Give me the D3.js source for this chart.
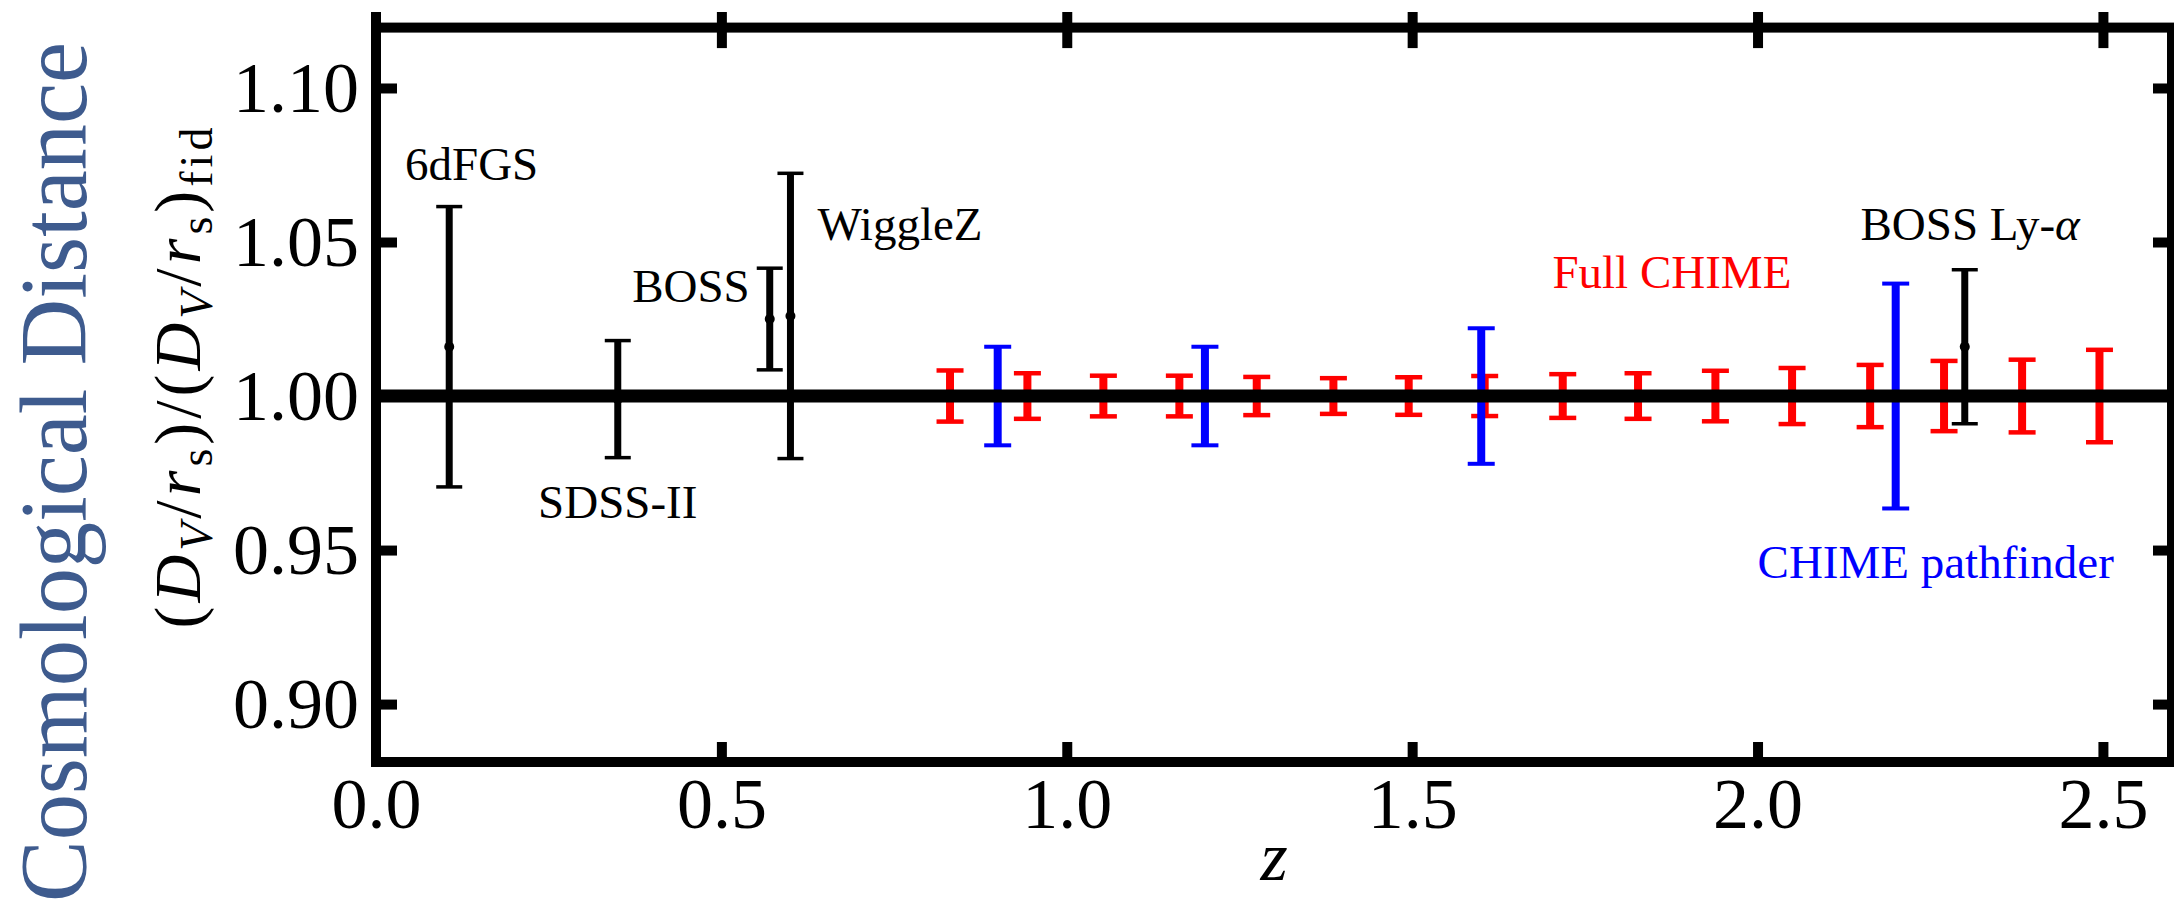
<!DOCTYPE html>
<html>
<head>
<meta charset="utf-8">
<script src="https://cdn.jsdelivr.net/npm/d3@7"></script>
<style>
  body { margin: 0; background: #fff; }
  svg text { font-family: "Liberation Serif", "DejaVu Serif", serif; }
</style>
</head>
<body>
<div id="chart"></div>
<script>
// existing BAO measurements (black)
const surveyNames = ["6dFGS", "SDSS-II", "BOSS", "WiggleZ", "BOSS Ly-α"];
const surveyZ = [0.106, 0.35, 0.57, 0.60, 2.30];
const surveyVal = [1.016, 0.999, 1.025, 1.026, 1.016];
const surveyErr = [0.0455, 0.019, 0.0165, 0.0463, 0.025];

// CHIME pathfinder forecast (blue)
const pathZ = [0.9, 1.2, 1.6, 2.2];
const pathErr = [0.016, 0.016, 0.022, 0.0365];

// full CHIME forecast (red)
const fullZ = [0.831, 0.943, 1.053, 1.163, 1.275, 1.386, 1.495, 1.605,
               1.718, 1.827, 1.939, 2.05, 2.163, 2.27, 2.383, 2.495];
const fullErr = [0.0083, 0.0074, 0.0066, 0.0066, 0.0062, 0.0058, 0.0061, 0.0065,
                 0.0071, 0.0074, 0.0082, 0.0091, 0.0101, 0.0114, 0.0118, 0.015];

const xTicks = [0.5, 1.0, 1.5, 2.0, 2.5];
const xTickLabels = [0.0, 0.5, 1.0, 1.5, 2.0, 2.5];
const yTicks = [0.90, 0.95, 1.00, 1.05, 1.10];

const w = 2174, h = 907;
const serif = "'Liberation Serif', 'DejaVu Serif', serif";

const x = d3.scaleLinear().domain([0, 2.6]).range([376, 2172]);
const y = d3.scaleLinear().domain([0.8812, 1.1196]).range([762, 27.6]);

const svg = d3.select("#chart").append("svg")
  .attr("width", w).attr("height", h);

// error bars
function errorBars(g, data, color, lw, capW, capLw) {
  const sel = g.selectAll("g.eb").data(data).enter().append("g").attr("class", "eb");
  sel.append("line")
    .attr("x1", d => x(d.z)).attr("x2", d => x(d.z))
    .attr("y1", d => y(d.v + d.e)).attr("y2", d => y(d.v - d.e))
    .attr("stroke", color).attr("stroke-width", lw);
  sel.append("line")
    .attr("x1", d => x(d.z) - capW / 2).attr("x2", d => x(d.z) + capW / 2)
    .attr("y1", d => y(d.v + d.e)).attr("y2", d => y(d.v + d.e))
    .attr("stroke", color).attr("stroke-width", capLw);
  sel.append("line")
    .attr("x1", d => x(d.z) - capW / 2).attr("x2", d => x(d.z) + capW / 2)
    .attr("y1", d => y(d.v - d.e)).attr("y2", d => y(d.v - d.e))
    .attr("stroke", color).attr("stroke-width", capLw);
  return sel;
}

const fullData = fullZ.map((z, i) => ({ z: z, v: 1, e: fullErr[i] }));
const pathData = pathZ.map((z, i) => ({ z: z, v: 1, e: pathErr[i] }));
const surveyData = surveyZ.map((z, i) => ({ z: z, v: surveyVal[i], e: surveyErr[i] }));

errorBars(svg.append("g"), fullData, "#ff0000", 8, 27, 4.5);
errorBars(svg.append("g"), pathData, "#0000ff", 8, 27, 4);
const sv = errorBars(svg.append("g"), surveyData, "#000", 7, 26, 3.5);
sv.append("circle")
  .attr("cx", d => x(d.z)).attr("cy", d => y(d.v)).attr("r", 5)
  .attr("fill", "#000");

// fiducial line
svg.append("line")
  .attr("x1", x(0)).attr("x2", x(2.6))
  .attr("y1", y(1)).attr("y2", y(1))
  .attr("stroke", "#000").attr("stroke-width", 13);

// axes
const xAxis = svg.append("g")
  .attr("transform", `translate(0,${y.range()[0]})`)
  .call(d3.axisBottom(x).tickValues(xTickLabels).tickSize(-20).tickPadding(15)
    .tickFormat(d3.format(".1f")));
const yAxis = svg.append("g")
  .attr("transform", `translate(${x.range()[0]},0)`)
  .call(d3.axisLeft(y).tickValues(yTicks).tickSize(-21).tickPadding(17)
    .tickFormat(d3.format(".2f")));
const yAxisR = svg.append("g")
  .attr("transform", `translate(${x.range()[1]},0)`)
  .call(d3.axisRight(y).tickValues(yTicks).tickSize(-19).tickFormat(""));
const xAxisT = svg.append("g")
  .attr("transform", `translate(0,${y.range()[1]})`)
  .call(d3.axisTop(x).tickValues(xTicks).tickSize(15).tickFormat(""));
xAxisT.selectAll(".tick line").attr("y2", 20.5).attr("y1", -15.6);

[xAxis, yAxis, yAxisR, xAxisT].forEach(a => {
  a.attr("font-family", serif);
  a.select(".domain").remove();
  a.selectAll(".tick line").attr("stroke", "#000").attr("stroke-width", 10);
  a.selectAll(".tick text").attr("font-size", "72px").attr("fill", "#000")
    .style("font-family", serif);
});
xAxis.selectAll(".tick").filter(d => d === 0).select("line").remove();

// frame
svg.append("rect")
  .attr("x", x.range()[0]).attr("y", y.range()[1])
  .attr("width", x.range()[1] - x.range()[0])
  .attr("height", y.range()[0] - y.range()[1])
  .attr("fill", "none").attr("stroke", "#000").attr("stroke-width", 10);
svg.append("line")
  .attr("x1", x(0)).attr("x2", x(0))
  .attr("y1", y.range()[1] - 15.6).attr("y2", y.range()[1])
  .attr("stroke", "#000").attr("stroke-width", 10);

// annotations
const lab = svg.append("g").attr("font-size", "47px").style("font-family", serif);
lab.append("text").attr("x", x(0.042)).attr("y", y(1.070)).text(surveyNames[0]);
lab.append("text").attr("x", x(0.35)).attr("y", y(0.9604)).attr("text-anchor", "middle").text(surveyNames[1]);
lab.append("text").attr("x", x(0.541)).attr("y", y(1.0306)).attr("text-anchor", "end").text(surveyNames[2]);
lab.append("text").attr("x", x(0.639)).attr("y", y(1.0508)).text(surveyNames[3]);
const lya = lab.append("text").attr("x", x(2.149)).attr("y", y(1.0506));
lya.append("tspan").text("BOSS Ly-");
lya.append("tspan").attr("font-style", "italic").text("α");
lab.append("text").attr("x", x(2.049)).attr("y", y(1.0351)).attr("text-anchor", "end")
  .attr("fill", "#ff0000").text("Full CHIME");
lab.append("text").attr("x", x(2.0)).attr("y", y(0.9409))
  .attr("fill", "#0000ff").text("CHIME pathfinder");
lab.selectAll("text").style("font-family", serif);

// axis titles
svg.append("text")
  .attr("x", x(1.3)).attr("y", 880)
  .attr("text-anchor", "middle").attr("font-size", "70px").attr("font-style", "italic")
  .style("font-family", serif)
  .text("z");

svg.append("text")
  .attr("transform", "translate(86,472) rotate(-90)")
  .attr("text-anchor", "middle").attr("font-size", "96px")
  .attr("fill", "#3e5b8e")
  .attr("textLength", 860).attr("lengthAdjust", "spacingAndGlyphs")
  .style("font-family", serif)
  .text("Cosmological Distance");

const yt = svg.append("text")
  .attr("transform", "translate(200,376) rotate(-90)")
  .attr("text-anchor", "middle").attr("font-size", "66px")
  .attr("letter-spacing", "4px")
  .style("font-family", serif);
const parts = [
  ["(", ""], ["D", "i"], ["V", "si"], ["/", ""], ["r", "i"], ["s", "s"], [")/(", ""],
  ["D", "i"], ["V", "si"], ["/", ""], ["r", "i"], ["s", "s"], [")", ""], ["fid", "s"]
];
parts.forEach((p, i) => {
  const isSub = p[1].includes("s");
  const prevSub = i > 0 && parts[i - 1][1].includes("s");
  let dy = 0;
  if (isSub && !prevSub) dy = 12;
  if (!isSub && prevSub) dy = -12;
  const t = yt.append("tspan").attr("dy", dy).text(p[0]);
  if (p[1].includes("i")) t.attr("font-style", "italic");
  if (isSub) t.attr("font-size", "46px");
});
</script>
</body>
</html>
